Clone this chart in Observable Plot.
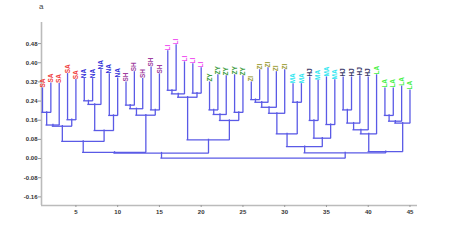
<!DOCTYPE html>
<html><head><meta charset="utf-8">
<script src="https://cdn.jsdelivr.net/npm/d3@7"></script>
<script src="https://cdn.jsdelivr.net/npm/@observablehq/plot@0.6"></script>
<style>
body{margin:0;background:#fff;}
#wrap{position:relative;width:450px;height:249px;}
#title{position:absolute;left:39px;top:2px;font:8px "Liberation Sans",Arial,sans-serif;color:#444;}
#wrap svg{position:absolute;left:0;top:0;}
</style></head><body>
<div id="wrap"><div id="title">a</div></div>
<script>
// leaves (left to right)
const leafLabels = ["SA","SA","SA","SA","SA","NA","NA","NA","NA","NA",
  "SH","SH","SH","SH","SH","LI","LI","LI","LI","LI",
  "ZY","ZY","ZY","ZY","ZY","ZI","ZI","ZI","ZI","ZI",
  "MA","MA","HJ","MA","MA","MA","HJ","HJ","HJ","HJ",
  "LA","LA","LA","LA","LA"];
const leafTops = [0.292,0.313,0.311,0.352,0.327,0.331,0.331,0.368,0.351,0.334,
  0.317,0.360,0.332,0.380,0.351,0.447,0.472,0.401,0.393,0.376,
  0.317,0.347,0.343,0.347,0.343,0.317,0.368,0.376,0.360,0.368,
  0.310,0.310,0.338,0.324,0.338,0.326,0.338,0.338,0.343,0.338,
  0.347,0.292,0.292,0.300,0.284];
// merges: leaf numbers 1..45, merge k referenced as 100+k
const mergeLeft  = [1,100,4,101,6,104,9,105,103,11,109,14,110,108,16,114,19,115,21,118,24,119,117,113,
  26,124,125,126,31,127,33,35,130,129,37,134,135,136,42,138,139,137,133,123];
const mergeRight = [2,3,5,102,7,8,10,106,107,12,13,15,111,112,17,18,20,116,22,23,25,120,121,122,
  27,28,29,30,32,128,34,36,131,132,38,39,40,41,43,44,45,140,141,142];
const mergeHeights = [0.193,0.140,0.162,0.135,0.241,0.226,0.180,0.117,0.072,0.223,0.208,0.203,0.181,0.026,
  0.285,0.270,0.273,0.256,0.203,0.184,0.193,0.159,0.078,0.023,
  0.246,0.235,0.214,0.189,0.235,0.103,0.159,0.142,0.085,0.050,
  0.203,0.148,0.120,0.103,0.180,0.156,0.148,0.029,0.024,0.002];
const yTicks = [-0.16,-0.08,0,0.08,0.16,0.24,0.32,0.40,0.48];
const xTicks = [5,10,15,20,25,30,35,40,45];
const groupColors = {SA:"#f03c3c",NA:"#3030d8",SH:"#a040a0",LI:"#f04cf0",ZY:"#3c9c3c",
  ZI:"#a0a040",MA:"#30e6f0",HJ:"#383868",LA:"#44f044"};

const pos = {}, hgt = {};
leafLabels.forEach((l,i)=>{pos[i+1]=i+1; hgt[i+1]=leafTops[i];});
const hSegs = [], vSegs = [];
mergeHeights.forEach((h,k)=>{
  const id = 100+k, a = mergeLeft[k], b = mergeRight[k];
  pos[id] = (pos[a]+pos[b])/2; hgt[id] = h;
  hSegs.push({x1:pos[a], x2:pos[b], y:h});
  vSegs.push({x:pos[a], y1:hgt[a], y2:h});
  vSegs.push({x:pos[b], y1:hgt[b], y2:h});
});
const leaves = leafLabels.map((l,i)=>({x:i+1, y:leafTops[i], label:l}));

const xDom = [0.88, 45.9], yDom = [-0.196, 0.568];
const lineColor = "#5a5ae6";
const chart = Plot.plot({
  width: 450, height: 249,
  marginTop: 22, marginBottom: 44, marginLeft: 41, marginRight: 33,
  style: {fontFamily: "'Liberation Sans', Arial, sans-serif", background: "transparent"},
  x: {domain: xDom},
  y: {domain: yDom},
  marks: [
    Plot.ruleX([xDom[0]], {stroke: "#bbb", strokeWidth: 1.6}),
    Plot.ruleY([yDom[0]], {stroke: "#bbb", strokeWidth: 1.6}),
    Plot.axisY({ticks: yTicks, tickFormat: d => d.toFixed(2), tickSize: 3, tickPadding: 1,
      fontSize: 6, fontWeight: "bold", fill: "#333", stroke: "#999", label: null}),
    Plot.axisX({ticks: xTicks, tickFormat: d => String(d), tickSize: 2, tickPadding: 2,
      fontSize: 6, fontWeight: "bold", fill: "#333", stroke: "#999", label: null}),
    Plot.ruleX(vSegs, {x: "x", y1: "y1", y2: "y2", stroke: lineColor, strokeWidth: 1.3, strokeLinecap: "square"}),
    Plot.ruleY(hSegs, {y: "y", x1: "x1", x2: "x2", stroke: lineColor, strokeWidth: 1.3, strokeLinecap: "square"}),
    Plot.text(leaves, {x: "x", y: "y", text: "label", rotate: -90, textAnchor: "start", lineAnchor: "middle",
      dy: -1, fontSize: 6.5, fontWeight: "bold", fill: d => groupColors[d.label]})
  ]
});
document.getElementById("wrap").appendChild(chart);
</script>
</body></html>
